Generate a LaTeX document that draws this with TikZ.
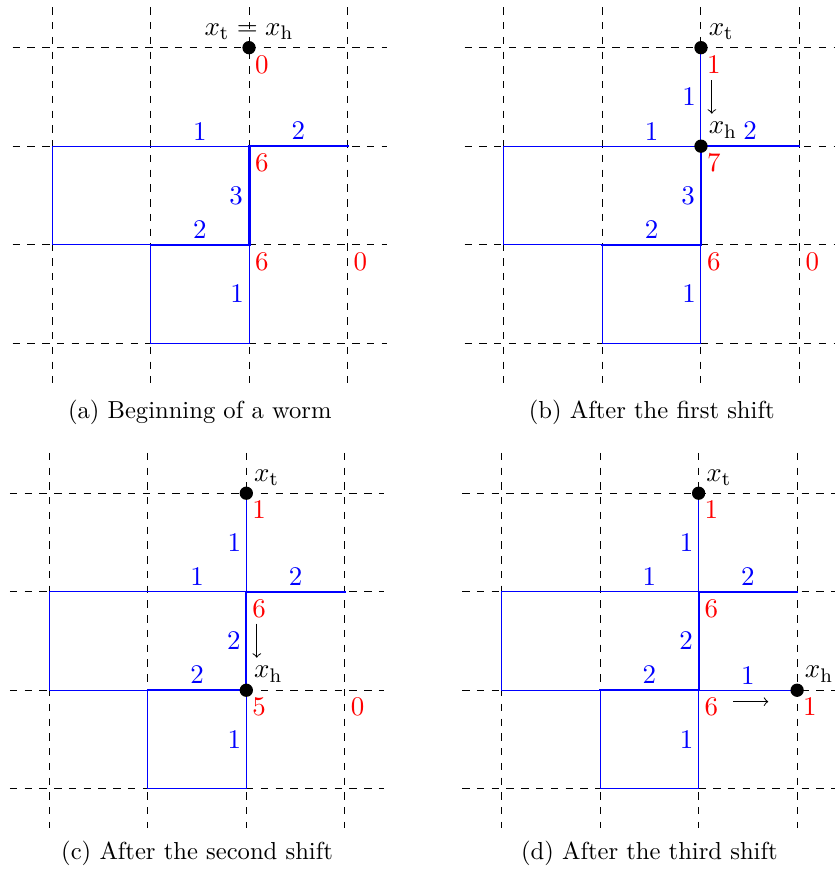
\documentclass[tikz,border=0pt]{standalone}
\usetikzlibrary{calc}
\newcommand\wormbase{%
  \foreach \i in {0,...,3} {\foreach \j in {0,...,3} {\coordinate (v\i\j) at (\i,\j);}}
  \foreach \j in {0,...,3} {%
    \coordinate (hl\j) at (-0.4,\j); \coordinate (hr\j) at (3.4,\j);
    \draw[grid] (hl\j) -- (hr\j);}
  \foreach \i in {0,...,3} {%
    \coordinate (vt\i) at (\i,-0.41); \coordinate (vb\i) at (\i,3.4);
    \draw[grid] (vt\i) -- (vb\i);}
  \draw[w1] (v21) -- node[hlab] (l1) {1} (v11) -- (v01) -- (v02) -- (v12) -- (v13) -- (v23) -- node[vlab] (l2) {1} (v22);
  \draw[w2] (v21) -- node[hlab] (l3) {2} (v31);
  \draw[w2] (v12) -- node[hlab] (l4) {2} (v22);
}
\begin{document}
\begin{tikzpicture}[x=40.04pt,y=-40.04pt,
  font=\fontsize{10.95}{13.6}\selectfont,
  grid/.style={dashed, line width=0.4pt, black},
  w1/.style={blue, line width=0.4pt},
  w2/.style={blue, line width=0.8pt, line cap=rect},
  w3/.style={blue, line width=1.2pt, line cap=rect},
  hlab/.style={text=blue, above, inner sep=2.2pt},
  vlab/.style={text=blue, left, inner sep=1.9pt},
  rlab/.style={text=red, anchor=center, xshift=5.2pt, yshift=-6.8pt},
  dot/.style={circle, fill=black, inner sep=0pt, minimum size=5.4pt},
  xlab/.style={anchor=south west, inner sep=3pt},
  captext/.style={anchor=base, font=\fontsize{10}{12}\selectfont},
  arr/.style={->, line width=0.4pt, black}]
\useasboundingbox (0,0) rectangle (8.467,8.832);

% (a)
\begin{scope}[shift={(0.528,0.484)}, name prefix=a-]
  \wormbase
  \draw[w3] (v21) -- node[vlab] (l5) {3} (v22);
  \node[dot] (tail) at (v20) {};
  \node[anchor=south, inner sep=3pt] (th) at (v20) {$x_{\mathrm{t}}=x_{\mathrm{h}}$};
  \node[rlab] (r20) at (v20) {0};
  \node[rlab] (r21) at (v21) {6};
  \node[rlab] (r22) at (v22) {6};
  \node[rlab] (r32) at (v32) {0};
  \node[captext] (cp) at (1.5,3.762) {(a) Beginning of a worm};
\end{scope}

% (b)
\begin{scope}[shift={(5.116,0.484)}, name prefix=b-]
  \wormbase
  \draw[w3] (v21) -- node[vlab] (l5) {3} (v22);
  \draw[w1] (v20) -- node[vlab] (l6) {1} (v21);
  \coordinate (aS) at (2.11,0.33); \coordinate (aE) at (2.11,0.67);
  \draw[arr] (aS) -- (aE);
  \node[dot] (tail) at (v20) {};
  \node[dot] (head) at (v21) {};
  \node[xlab] (tl) at (v20) {$x_{\mathrm{t}}$};
  \node[xlab] (hl) at (v21) {$x_{\mathrm{h}}$};
  \node[rlab] (r20) at (v20) {1};
  \node[rlab] (r21) at (v21) {7};
  \node[rlab] (r22) at (v22) {6};
  \node[rlab] (r32) at (v32) {0};
  \node[captext] (cp) at (1.5,3.762) {(b) After the first shift};
\end{scope}

% (c)
\begin{scope}[shift={(0.5005,5.007)}, name prefix=c-]
  \wormbase
  \draw[w2] (v21) -- node[vlab] (l5) {2} (v22);
  \draw[w1] (v20) -- node[vlab] (l6) {1} (v21);
  \coordinate (aS) at (2.106,1.325); \coordinate (aE) at (2.106,1.67);
  \draw[arr] (aS) -- (aE);
  \node[dot] (tail) at (v20) {};
  \node[dot] (head) at (v22) {};
  \node[xlab] (tl) at (v20) {$x_{\mathrm{t}}$};
  \node[xlab] (hl) at (v22) {$x_{\mathrm{h}}$};
  \node[rlab] (r20) at (v20) {1};
  \node[rlab] (r21) at (v21) {6};
  \node[rlab] (r22) at (v22) {5};
  \node[rlab] (r32) at (v32) {0};
  \node[captext] (cp) at (1.5,3.716) {(c) After the second shift};
\end{scope}

% (d)
\begin{scope}[shift={(5.092,5.007)}, name prefix=d-]
  \wormbase
  \draw[w2] (v21) -- node[vlab] (l5) {2} (v22);
  \draw[w1] (v20) -- node[vlab] (l6) {1} (v21);
  \draw[w1] (v22) -- node[hlab] (l7) {1} (v32);
  \coordinate (aS) at (2.35,2.116); \coordinate (aE) at (2.707,2.116);
  \draw[arr] (aS) -- (aE);
  \node[dot] (tail) at (v20) {};
  \node[dot] (head) at (v32) {};
  \node[xlab] (tl) at (v20) {$x_{\mathrm{t}}$};
  \node[xlab] (hl) at (v32) {$x_{\mathrm{h}}$};
  \node[rlab] (r20) at (v20) {1};
  \node[rlab] (r21) at (v21) {6};
  \node[rlab] (r22) at (v22) {6};
  \node[rlab] (r32) at (v32) {1};
  \node[captext] (cp) at (1.5,3.716) {(d) After the third shift};
\end{scope}
\end{tikzpicture}
\end{document}
